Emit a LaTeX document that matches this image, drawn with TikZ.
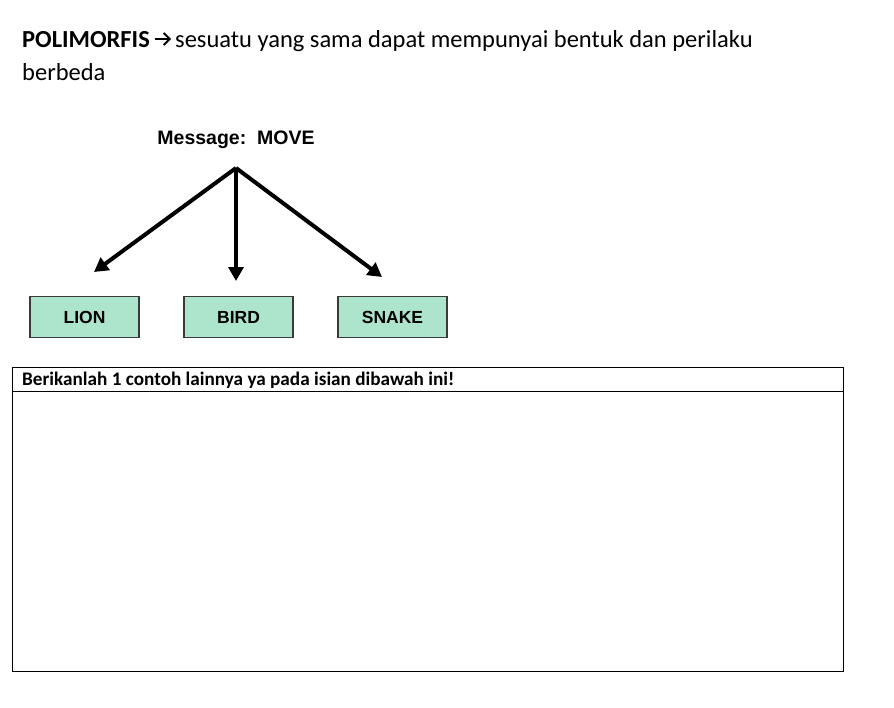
\documentclass[tikz,border=0pt]{standalone}
\usepackage{fontspec}
\setmainfont{Carlito}
\newfontfamily\arialf{Liberation Sans}
\usetikzlibrary{arrows.meta}
\definecolor{mint}{HTML}{ACE5CB}
\definecolor{boxedge}{HTML}{3A3A3A}
\tikzset{
  animal/.style={draw=boxedge, line width=1.3pt, fill=mint, minimum width=109pt, minimum height=41pt, inner sep=0pt, font=\arialf\bfseries\fontsize{17.5}{20}\selectfont},
  msgarrow/.style={line width=4pt, -{Triangle[length=14pt,width=15pt]}},
  heading/.style={anchor=base west, inner sep=0pt, font=\fontsize{24.5}{29}\selectfont},
  textarrow/.style={line width=1.9pt, -{Straight Barb[length=6pt,width=12pt,line width=1.9pt]}},
}
\begin{document}
\begin{tikzpicture}[x=1pt,y=-1pt]
\useasboundingbox[fill=white] (0,0) rectangle (894,707);
% heading
\node[heading] (h1a) at (22,47) {\textbf{POLIMORFIS}};
\node[heading] (h1b) at (175,47) {sesuatu yang sama dapat mempunyai bentuk dan perilaku};
\draw[textarrow] ([xshift=4.5pt,yshift=8pt]h1a.base east) -- ([xshift=-4pt,yshift=8pt]h1b.base west);
\node[heading] (h2) at (22,80) {berbeda};
% diagram
\node[anchor=base, inner sep=0pt, font=\arialf\bfseries\fontsize{19.5}{22}\selectfont] (msg) at (236,144) {Message:\ \ MOVE};
\coordinate (apex) at (236,168);
\coordinate (tl) at (94,272);
\coordinate (tm) at (236,281);
\coordinate (tr) at (382,277);
\draw[msgarrow] (apex) -- (tl);
\draw[msgarrow] (apex) -- (tm);
\draw[msgarrow] (apex) -- (tr);
\node[animal] (lion) at (84.5,317) {LION};
\node[animal] (bird) at (238.5,317) {BIRD};
\node[animal] (snake) at (392.5,317) {SNAKE};
% table
\draw[line width=1pt] (12,367) rectangle (843,671);
\draw[line width=1pt] (12,391) -- (843,391);
\node[anchor=base west, inner sep=0pt, font=\bfseries\fontsize{19.2}{23}\selectfont] (th) at (22,385) {Berikanlah 1 contoh lainnya ya pada isian dibawah ini!};
\end{tikzpicture}
\end{document}
